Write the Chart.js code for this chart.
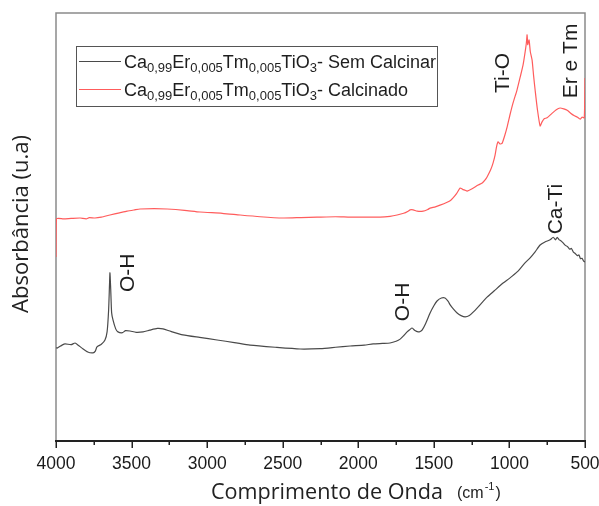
<!DOCTYPE html>
<html>
<head>
<meta charset="utf-8">
<script src="https://cdn.jsdelivr.net/npm/chart.js@4/dist/chart.umd.min.js"></script>
<style>
  html, body { margin: 0; padding: 0; background: #fff; }
  #wrap { width: 599px; height: 506px; }
</style>
</head>
<body>
<div id="wrap"><canvas id="c" width="599" height="506"></canvas></div>
<script>
// FTIR spectra, wavenumber (cm-1) and absorbance (a.u.)
const semCalcinarX = [4000, 3993, 3960, 3940, 3900, 3874, 3850, 3828, 3790, 3755, 3740, 3729, 3700, 3676, 3662, 3652, 3646, 3643, 3638, 3632, 3623, 3605, 3590, 3560, 3540, 3510, 3470, 3424, 3380, 3330, 3292, 3240, 3160, 3050, 2934, 2820, 2716, 2550, 2385, 2250, 2150, 2054, 1960, 1902, 1840, 1790, 1750, 1723, 1700, 1677, 1660, 1644, 1625, 1604, 1590, 1578, 1555, 1525, 1500, 1479, 1450, 1426, 1405, 1392, 1370, 1346, 1320, 1293, 1265, 1240, 1200, 1148, 1100, 1042, 1000, 949, 900, 863, 830, 797, 765, 731, 710, 695, 684, 670, 660, 645, 630, 615, 600, 590, 578, 565, 550, 540, 530, 520, 510, 500];
const semCalcinarY = [21.8, 21.7, 22.4, 22.7, 22.5, 22.9, 22.3, 21.7, 20.8, 20.6, 21.0, 22.0, 22.6, 23.6, 25.5, 30.5, 36.5, 39.3, 35.5, 30.0, 28.3, 26.2, 25.5, 25.3, 25.8, 25.7, 25.4, 25.5, 25.9, 26.3, 26.2, 25.6, 24.8, 24.2, 23.6, 23.0, 22.4, 21.9, 21.5, 21.6, 21.9, 22.2, 22.4, 22.7, 22.8, 22.9, 23.3, 23.8, 24.6, 25.5, 26.0, 26.4, 25.8, 25.5, 25.6, 25.9, 27.4, 29.9, 31.6, 32.7, 33.4, 33.4, 32.6, 31.8, 30.8, 29.9, 29.3, 29.0, 29.3, 30.1, 31.6, 33.6, 35.1, 36.9, 38.0, 39.5, 41.5, 42.8, 44.2, 45.8, 46.5, 47.0, 47.6, 47.0, 47.6, 47.0, 46.8, 46.3, 45.7, 45.4, 44.8, 45.0, 44.2, 43.8, 43.3, 43.5, 42.6, 42.7, 42.1, 41.8];

const calcinadoX = [4000, 3997, 3950, 3900, 3841, 3800, 3780, 3742, 3700, 3643, 3580, 3530, 3480, 3444, 3350, 3265, 3150, 3047, 2900, 2782, 2650, 2498, 2380, 2273, 2150, 2054, 1950, 1856, 1790, 1743, 1700, 1670, 1657, 1637, 1610, 1571, 1540, 1525, 1490, 1459, 1412, 1390, 1373, 1350, 1326, 1310, 1293, 1280, 1250, 1207, 1180, 1161, 1148, 1125, 1108, 1095, 1085, 1075, 1062, 1048, 1030, 1015, 995, 976, 950, 929, 910, 896, 888, 883, 879, 876, 870, 862, 850, 840, 830, 815, 797, 785, 770, 751, 720, 690, 665, 640, 618, 595, 570, 552, 532, 519, 505, 500];
const calcinadoY = [43.0, 51.9, 51.9, 52.0, 52.1, 51.9, 52.2, 52.1, 52.3, 52.8, 53.3, 53.7, 54.0, 54.2, 54.3, 54.2, 53.9, 53.5, 53.2, 52.8, 52.4, 52.1, 52.2, 52.3, 52.4, 52.3, 52.3, 52.3, 52.5, 52.8, 53.2, 53.7, 54.0, 54.0, 53.7, 53.7, 54.1, 54.4, 54.7, 55.1, 55.8, 56.2, 56.8, 57.8, 59.1, 58.8, 58.6, 58.4, 58.9, 59.8, 60.3, 61.0, 61.7, 63.3, 65.0, 66.8, 68.8, 69.9, 69.4, 69.6, 71.5, 73.4, 76.4, 79.0, 82.0, 85.0, 87.8, 90.9, 93.0, 94.9, 92.6, 93.0, 93.7, 91.0, 89.0, 85.3, 82.0, 77.5, 73.6, 74.5, 75.3, 75.5, 76.5, 77.4, 77.8, 77.6, 77.3, 76.6, 76.0, 75.7, 75.2, 75.7, 75.5, 84.8];

// x axis ticks (labelled every 500, minor marks every 250)
const majorTicks = [4000, 3500, 3000, 2500, 2000, 1500, 1000, 500];
const minorTicks = [3750, 3250, 2750, 2250, 1750, 1250, 750];

// band assignments: label, wavenumber, absorbance
const bandLabels = ['O-H', 'O-H', 'Ca-Ti', 'Ti-O', 'Er e Tm'];
const bandX = [3530, 1710, 698, 1048, 598];
const bandY = [39.3, 32.5, 54.2, 86.0, 88.8];

const seriesNames = ['Sem Calcinar', 'Calcinado'];
const seriesColors = ['#4a4a4a', '#ff5c5c'];

const toPoints = (xs, ys) => xs.map((x, i) => ({ x: x, y: ys[i] }));

const decor = {
  id: 'decor',
  // plot frame goes under the spectra
  beforeDatasetsDraw(chart) {
    const ctx = chart.ctx;
    const a = chart.chartArea;
    ctx.save();
    ctx.strokeStyle = '#8a8a8a';
    ctx.lineWidth = 1.5;
    ctx.beginPath();
    ctx.moveTo(a.left, a.bottom);
    ctx.lineTo(a.left, a.top);
    ctx.lineTo(a.right, a.top);
    ctx.lineTo(a.right, a.bottom);
    ctx.stroke();
    ctx.restore();
  },
  afterDraw(chart) {
    const ctx = chart.ctx;
    const a = chart.chartArea;
    const xs = chart.scales.x;
    const ys = chart.scales.y;
    ctx.save();

    // bottom axis, tick marks and tick labels
    ctx.strokeStyle = '#222';
    ctx.lineWidth = 2;
    ctx.beginPath();
    ctx.moveTo(a.left - 1, a.bottom);
    ctx.lineTo(a.right + 1, a.bottom);
    ctx.stroke();
    ctx.lineWidth = 1.5;
    ctx.beginPath();
    majorTicks.forEach(v => {
      const px = Math.round(xs.getPixelForValue(v)) + 0.25;
      ctx.moveTo(px, a.bottom);
      ctx.lineTo(px, a.bottom + 7);
    });
    minorTicks.forEach(v => {
      const px = Math.round(xs.getPixelForValue(v)) + 0.25;
      ctx.moveTo(px, a.bottom);
      ctx.lineTo(px, a.bottom + 4);
    });
    ctx.stroke();
    ctx.fillStyle = '#1a1a1a';
    ctx.font = '17.5px "Liberation Sans", Arial, sans-serif';
    ctx.textAlign = 'center';
    ctx.textBaseline = 'alphabetic';
    majorTicks.forEach(v => {
      ctx.fillText(String(v), xs.getPixelForValue(v), a.bottom + 28);
    });

    // band labels
    ctx.fillStyle = '#1e1e1e';
    ctx.font = '21px "Liberation Sans", Arial, sans-serif';
    ctx.textAlign = 'center';
    ctx.textBaseline = 'middle';
    bandLabels.forEach((t, i) => {
      ctx.save();
      ctx.translate(xs.getPixelForValue(bandX[i]), ys.getPixelForValue(bandY[i]));
      ctx.rotate(-Math.PI / 2);
      ctx.fillText(t, 0, 1);
      ctx.restore();
    });

    // legend
    const lx = 76, ly = 46, lw = 361, lh = 60;
    ctx.strokeStyle = '#555';
    ctx.lineWidth = 1;
    ctx.strokeRect(lx + 0.5, ly + 0.5, lw, lh);
    const rows = [61, 89];
    rows.forEach((ry, i) => {
      ctx.strokeStyle = seriesColors[i];
      ctx.lineWidth = 1.2;
      ctx.beginPath();
      ctx.moveTo(79, ry + 0.5);
      ctx.lineTo(121, ry + 0.5);
      ctx.stroke();
      const parts = [
        ['Ca', 0], ['0,99', 1], ['Er', 0], ['0,005', 1], ['Tm', 0], ['0,005', 1],
        ['TiO', 0], ['3', 1], ['- ' + seriesNames[i], 0]
      ];
      let x = 124;
      const base = ry + 6.5;
      ctx.textAlign = 'left';
      ctx.textBaseline = 'alphabetic';
      ctx.fillStyle = '#1e1e1e';
      parts.forEach(([s, sub]) => {
        ctx.font = sub ? '13px "Liberation Sans", Arial, sans-serif' : '18px "Liberation Sans", Arial, sans-serif';
        ctx.fillText(s, x, sub ? base + 4 : base);
        x += ctx.measureText(s).width;
      });
    });

    // axis titles
    ctx.fillStyle = '#222';
    ctx.textBaseline = 'alphabetic';
    ctx.textAlign = 'left';
    ctx.font = '21.6px "Open Sans", sans-serif';
    ctx.fillText('Comprimento de Onda', 211, 499);
    let tx = 457;
    ctx.font = '16px "Liberation Sans", Arial, sans-serif';
    ctx.fillText('(cm', tx, 498);
    tx += ctx.measureText('(cm').width + 1;
    ctx.font = '11px "Liberation Sans", Arial, sans-serif';
    ctx.fillText('-1', tx, 490);
    tx += ctx.measureText('-1').width + 1;
    ctx.font = '16px "Liberation Sans", Arial, sans-serif';
    ctx.fillText(')', tx, 498);

    ctx.save();
    ctx.translate(28, 224);
    ctx.rotate(-Math.PI / 2);
    ctx.textAlign = 'center';
    ctx.font = '22px "Open Sans", sans-serif';
    ctx.fillText('Absorbância (u.a)', 0, 0);
    ctx.restore();

    ctx.restore();
  }
};

new Chart(document.getElementById('c'), {
  type: 'line',
  data: {
    datasets: [
      {
        label: seriesNames[0],
        data: toPoints(semCalcinarX, semCalcinarY),
        borderColor: seriesColors[0],
        borderWidth: 1.2,
        pointRadius: 0,
        tension: 0.2,
        fill: false
      },
      {
        label: seriesNames[1],
        data: toPoints(calcinadoX, calcinadoY),
        borderColor: seriesColors[1],
        borderWidth: 1.2,
        pointRadius: 0,
        tension: 0.2,
        fill: false
      }
    ]
  },
  options: {
    responsive: false,
    animation: false,
    devicePixelRatio: 1,
    layout: { padding: { left: 56, right: 14, top: 13, bottom: 0 } },
    plugins: { legend: { display: false }, tooltip: { enabled: false } },
    scales: {
      x: {
        type: 'linear',
        reverse: true,
        min: 500,
        max: 4000,
        afterBuildTicks: s => { s.ticks = majorTicks.map(v => ({ value: v })); },
        afterFit: s => { s.height = 65; },
        grid: { display: false, drawTicks: false },
        border: { display: false },
        ticks: { display: false }
      },
      y: {
        display: false,
        min: 0,
        max: 100
      }
    }
  },
  plugins: [decor]
});
</script>
</body>
</html>
